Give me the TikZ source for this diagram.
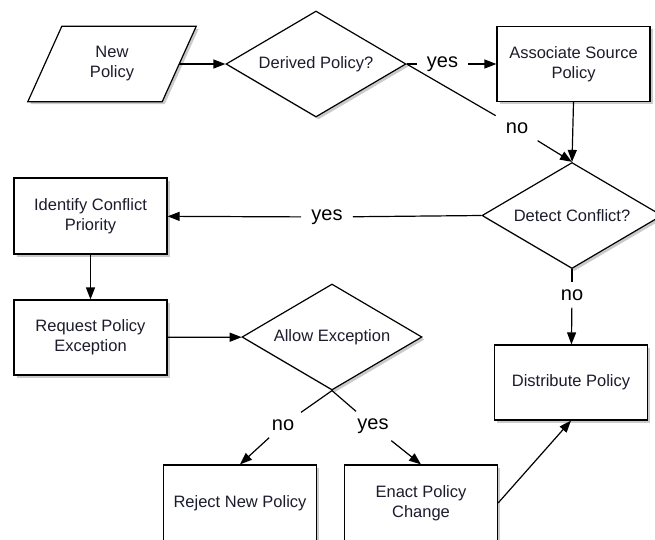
\documentclass[tikz,border=0pt]{standalone}
\usepackage{fontspec}
\setmainfont{Liberation Sans}
\usetikzlibrary{shapes.geometric,arrows.meta,shadows}
\definecolor{ink}{RGB}{28,28,45}
\begin{document}
\begin{tikzpicture}[x=1pt,y=-1pt,
  shad/.style={drop shadow={shadow xshift=2.5pt, shadow yshift=-2.5pt, opacity=0.35, fill=black!60}},
  outline/.style={draw=black, line width=1.2pt, fill=white, shad},
  base/.style={outline, text=ink, font=\fontsize{16.5}{20}\selectfont, align=center},
  box/.style={base, rectangle, minimum width=153pt, minimum height=75pt, inner sep=0pt},
  dia/.style={base, diamond, aspect=1.7, minimum width=180pt, minimum height=106pt, inner sep=0pt},
  paratext/.style={rectangle, text=ink, font=\fontsize{16.5}{20}\selectfont, align=center,
     minimum width=134pt, minimum height=75pt, inner sep=0pt},
  lbl/.style={font=\fontsize{20}{22}\selectfont, text=black, inner xsep=10pt, inner ysep=7pt},
  conn/.style={line width=1.2pt},
  arr/.style={conn, -{Triangle[length=12pt,width=9pt]}}]
\useasboundingbox (0,0) rectangle (655,539);

% input parallelogram
\node[paratext] (np) at (112,64) {};
\draw[outline] ([xshift=17pt]np.north west) -- ([xshift=17pt]np.north east)
   -- ([xshift=-17pt]np.south east) -- ([xshift=-17pt]np.south west) -- cycle;
\node[paratext] at (np) {New\\Policy};

% shapes
\node[dia] (dp) at (316,64) {Derived Policy?};
\node[box] (as) at (573.5,64) {Associate Source\\Policy};
\node[dia] (dc) at (572,215.5) {Detect Conflict?};
\node[box, minimum height=76pt] (id) at (90.5,216) {Identify Conflict\\Priority};
\node[box] (rq) at (90.5,337.5) {Request Policy\\Exception};
\node[dia] (ae) at (332,337) {Allow Exception};
\node[box] (ds) at (571,382.5) {Distribute Policy};
\node[box, minimum height=76pt] (rj) at (240,503) {Reject New Policy};
\node[box, minimum height=76pt] (en) at (421,503) {Enact Policy\\Change};

% labels
\node[lbl] (y1) at (442.5,64) {yes};
\node[lbl] (n1) at (517,128) {no};
\node[lbl] (y2) at (327,217) {yes};
\node[lbl] (n2) at (572,295) {no};
\node[lbl] (n3) at (283,425) {no};
\node[lbl] (y3) at (373,426) {yes};

% connectors
\draw[arr] (np) -- (dp);
\draw[conn] (dp.east) -- (y1);
\draw[arr] (y1) -- (as);
\draw[conn] (dp.east) -- (n1);
\draw[arr] (n1) -- (dc.north);
\draw[arr] (as.south) -- (dc.north);
\draw[conn] (dc.west) -- (y2);
\draw[arr] (y2) -- (id);
\draw[conn] (dc.south) -- (n2);
\draw[arr] (n2) -- (ds);
\draw[arr] (id) -- (rq);
\draw[arr] (rq) -- (ae);
\draw[conn] (ae.south) -- (n3);
\draw[conn] (ae.south) -- (y3);
\draw[arr] (n3) -- (rj.north);
\draw[arr] (y3) -- (en.north);
\draw[arr] (en.east) -- (ds.south);
\end{tikzpicture}
\end{document}
